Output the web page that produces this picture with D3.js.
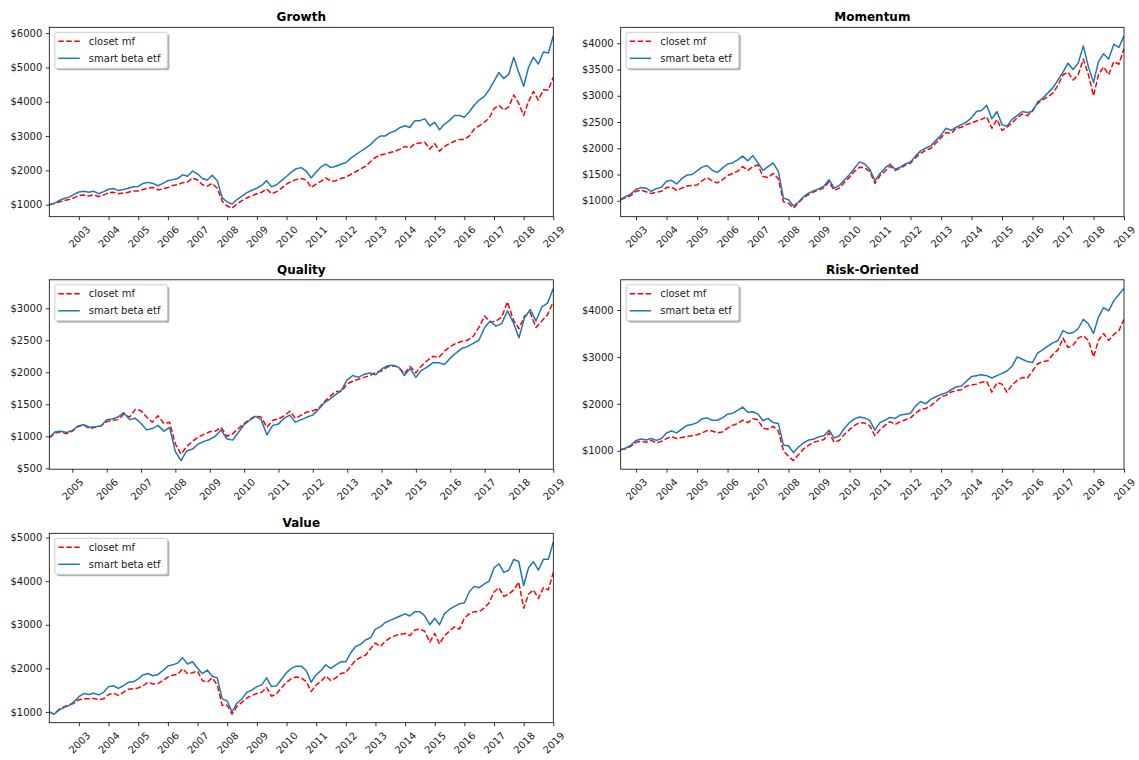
<!DOCTYPE html>
<html>
<head>
<meta charset="utf-8">
<script src="https://cdn.jsdelivr.net/npm/d3@7"></script>
<style>
  body { margin: 0; background: #fff; }
  svg { display: block; }
  text { font-family: "DejaVu Sans", sans-serif; }
</style>
</head>
<body>
<svg id="chart" width="1139" height="760"></svg>
<script>
// Growth of $1000: closet mutual funds vs smart beta ETFs, sampled every two months.

const seriesNames = ["closet mf", "smart beta etf"];

// ---- Growth (from Jan 2002) ----
const growthStart = "2002-01";
const growthMf = [
  1000, 1030, 1080, 1120, 1150, 1200,
  1270, 1280, 1250, 1290, 1240, 1280,
  1350, 1360, 1320, 1340, 1360, 1400,
  1400, 1440, 1480, 1500, 1430, 1460,
  1500, 1560, 1580, 1640, 1660, 1780,
  1720, 1580, 1540, 1620, 1480, 1100,
  960, 900, 1020, 1120, 1200, 1260,
  1320, 1360, 1460, 1320, 1380, 1480,
  1600, 1680, 1730, 1760, 1720, 1500,
  1600, 1680, 1780, 1680, 1700, 1760,
  1800, 1880, 1960, 2040, 2120, 2250,
  2380, 2450, 2480, 2520, 2560, 2620,
  2700, 2650, 2780, 2800, 2820, 2620,
  2780, 2560, 2700, 2780, 2850, 2900,
  2900, 3000, 3200, 3300, 3400, 3520,
  3800, 3900, 3760, 3850, 4200, 3950,
  3600, 4000, 4300, 4050, 4350, 4340,
  4720
];
const growthEtf = [
  1000, 1040, 1120, 1180, 1220, 1300,
  1370, 1390, 1360, 1390, 1320, 1380,
  1450, 1470, 1410, 1440, 1480, 1520,
  1530, 1620, 1650, 1620, 1550, 1620,
  1700, 1730, 1760, 1870, 1830, 1980,
  1900, 1760, 1720, 1860, 1700, 1200,
  1080, 1020, 1150, 1250, 1350, 1420,
  1480, 1560, 1700, 1520, 1580, 1700,
  1820, 1950, 2050, 2080, 1980, 1780,
  1950, 2100, 2180, 2080, 2120, 2180,
  2220, 2350, 2450, 2550, 2650, 2750,
  2900, 3000, 3000, 3100, 3150, 3250,
  3300, 3250, 3450, 3450, 3500, 3300,
  3400, 3180, 3350, 3450, 3600, 3600,
  3550, 3700, 3900, 4050, 4150, 4350,
  4600, 4850, 4680, 4800, 5300, 4850,
  4450, 5000, 5300, 5100, 5450, 5420,
  5920
];
const growthYTicks = [1000, 2000, 3000, 4000, 5000, 6000];
const growthYears = [2003, 2004, 2005, 2006, 2007, 2008, 2009, 2010, 2011, 2012, 2013, 2014, 2015, 2016, 2017, 2018, 2019];

// ---- Momentum (from Jul 2002) ----
const momentumStart = "2002-07";
const momentumMf = [
  1020, 1060, 1100,
  1180, 1200, 1170, 1140, 1160, 1180,
  1250, 1260, 1200, 1240, 1280, 1290,
  1300, 1380, 1440, 1380, 1340, 1400,
  1480, 1520, 1560, 1650, 1580, 1650,
  1680, 1460, 1440, 1520, 1420, 980,
  950, 860, 960, 1060, 1120, 1170,
  1210, 1250, 1360, 1200, 1240, 1350,
  1450, 1560, 1640, 1630, 1560, 1330,
  1480, 1560, 1660, 1580, 1620, 1680,
  1720, 1820, 1900, 1960, 2000, 2100,
  2200, 2300, 2280, 2380, 2400, 2450,
  2480, 2520, 2550, 2600, 2380, 2550,
  2340, 2400, 2480, 2580, 2650, 2620,
  2720, 2850, 2920, 2980, 3050, 3200,
  3400, 3450, 3300, 3400, 3700, 3400,
  3000, 3400, 3550, 3400, 3650, 3600,
  3900
];
const momentumEtf = [
  1030, 1080, 1130,
  1220, 1250, 1240, 1180, 1230, 1260,
  1370, 1390, 1320, 1420, 1490, 1500,
  1570, 1640, 1670, 1580, 1540, 1620,
  1700, 1720, 1780, 1850, 1760, 1860,
  1720, 1580, 1650, 1720, 1560, 1050,
  1020, 900, 980, 1080, 1150, 1190,
  1230, 1280, 1400, 1240, 1290, 1400,
  1500, 1620, 1740, 1700, 1600, 1380,
  1520, 1620, 1700, 1600, 1640, 1700,
  1740, 1850, 1950, 2000, 2050, 2150,
  2250, 2380, 2340, 2400, 2450, 2500,
  2580, 2700, 2720, 2820, 2560, 2700,
  2450, 2420, 2550, 2620, 2700, 2680,
  2700, 2880, 2950, 3050, 3150, 3300,
  3450, 3620, 3500, 3620, 3950, 3550,
  3250, 3650, 3800, 3700, 3980, 3920,
  4140
];
const momentumYTicks = [1000, 1500, 2000, 2500, 3000, 3500, 4000];
const momentumYears = [2003, 2004, 2005, 2006, 2007, 2008, 2009, 2010, 2011, 2012, 2013, 2014, 2015, 2016, 2017, 2018, 2019];

// ---- Quality (from May 2004) ----
const qualityStart = "2004-05";
const qualityMf = [
  970, 1050, 1070, 1040,
  1080, 1150, 1180, 1120, 1140, 1160,
  1230, 1250, 1260, 1340, 1300, 1420,
  1400, 1300, 1220, 1320, 1200, 1220,
  880, 720, 840, 920, 990, 1030,
  1070, 1080, 1140, 1000, 1040, 1120,
  1200, 1260, 1320, 1300, 1140, 1250,
  1270, 1320, 1390, 1280, 1330, 1380,
  1400, 1430, 1540, 1620, 1700, 1700,
  1820, 1860, 1890, 1920, 1950, 2000,
  2020, 2080, 2100, 2080, 1980, 2090,
  1990, 2100, 2180, 2250, 2230, 2330,
  2400, 2450, 2480, 2500, 2560, 2700,
  2880, 2780, 2800, 2860, 3100, 2820,
  2680, 2880, 2930, 2700, 2800, 2900,
  3100
];
const qualityEtf = [
  980, 1070, 1080, 1060,
  1090, 1160, 1180, 1140, 1150, 1160,
  1260, 1270, 1300, 1370, 1260, 1280,
  1200, 1100, 1120, 1170, 1080, 1140,
  760, 620, 770, 800, 880, 920,
  950, 1000, 1100, 960, 940, 1060,
  1180, 1250, 1310, 1260, 1020, 1170,
  1190, 1280, 1330, 1220, 1260, 1300,
  1330, 1420, 1520, 1580, 1650, 1720,
  1880, 1950, 1920, 1970, 1990, 1960,
  2050, 2100, 2110, 2080, 1950, 2060,
  1920, 2030, 2080, 2150, 2150, 2120,
  2220, 2300, 2370, 2400, 2450, 2500,
  2700, 2800, 2720, 2760, 2960, 2780,
  2540, 2850, 2980, 2800, 3020, 3080,
  3310
];
const qualityYTicks = [500, 1000, 1500, 2000, 2500, 3000];
const qualityYears = [2005, 2006, 2007, 2008, 2009, 2010, 2011, 2012, 2013, 2014, 2015, 2016, 2017, 2018, 2019];

// ---- Risk-Oriented (from Jul 2002) ----
const riskStart = "2002-07";
const riskMf = [
  1020, 1040, 1100,
  1180, 1200, 1180, 1220, 1170, 1200,
  1260, 1300, 1260, 1280, 1300, 1320,
  1340, 1380, 1430, 1420, 1380, 1400,
  1480, 1540, 1580, 1650, 1600, 1680,
  1660, 1480, 1460, 1520, 1420, 1000,
  880, 790, 920, 1040, 1120, 1180,
  1210, 1240, 1380, 1180, 1220, 1350,
  1450, 1540, 1600, 1590, 1530, 1320,
  1450, 1540, 1620, 1560, 1620, 1660,
  1700, 1800, 1880, 1900, 1960, 2050,
  2150, 2180, 2250, 2280, 2300, 2380,
  2400, 2420, 2460, 2480, 2250, 2450,
  2420, 2250, 2400, 2500, 2560, 2550,
  2700, 2850, 2900, 2920, 3050, 3150,
  3400, 3200, 3250, 3400, 3450, 3350,
  3000, 3350, 3500, 3350, 3480, 3560,
  3800
];
const riskEtf = [
  1020, 1060, 1120,
  1220, 1250, 1230, 1260, 1220, 1260,
  1380, 1420, 1380, 1460, 1540, 1560,
  1600, 1680, 1700, 1650, 1650, 1700,
  1780, 1800, 1860, 1930, 1820, 1830,
  1780, 1640, 1690, 1600, 1580, 1120,
  1100, 960, 1080, 1170, 1230, 1250,
  1300, 1320, 1440, 1270, 1320, 1480,
  1600, 1680, 1720, 1700, 1640, 1440,
  1600, 1650, 1710, 1690, 1760, 1780,
  1800, 1950, 2050, 2000, 2100, 2150,
  2200, 2230, 2300, 2360, 2380, 2480,
  2580, 2600, 2620, 2600, 2550, 2600,
  2650, 2700, 2800, 3000, 2950, 2900,
  2880, 3080, 3150, 3230, 3300, 3350,
  3560, 3500, 3520, 3600, 3800, 3700,
  3500, 3850, 4050, 3980, 4200, 4330,
  4460
];
const riskYTicks = [1000, 2000, 3000, 4000];
const riskYears = [2003, 2004, 2005, 2006, 2007, 2008, 2009, 2010, 2011, 2012, 2013, 2014, 2015, 2016, 2017, 2018, 2019];

// ---- Value (from Jan 2002) ----
const valueStart = "2002-01";
const valueMf = [
  1000, 950, 1060, 1120, 1160, 1200,
  1280, 1300, 1300, 1310, 1280, 1300,
  1400, 1430, 1380, 1450, 1520, 1530,
  1550, 1600, 1680, 1640, 1650, 1720,
  1800, 1840, 1860, 1990, 1880, 1900,
  1940, 1720, 1680, 1780, 1620, 1150,
  1150, 950, 1130, 1220, 1320, 1380,
  1420, 1450, 1560, 1360, 1420, 1550,
  1680, 1760, 1800, 1780, 1700, 1470,
  1620, 1700, 1820, 1720, 1780, 1880,
  1900, 2050, 2180, 2250, 2300, 2450,
  2580, 2500, 2620, 2700, 2750, 2780,
  2800, 2750, 2880, 2900, 2850, 2600,
  2800, 2560, 2750, 2850, 2950, 2900,
  3150, 3250, 3300, 3300, 3380, 3500,
  3750, 3850, 3650, 3700, 3800, 3980,
  3380, 3700, 3800, 3600, 3850, 3800,
  4200
];
const valueEtf = [
  1000, 950, 1040, 1100, 1150, 1230,
  1350, 1420, 1400, 1430, 1390, 1450,
  1580, 1600, 1540, 1600, 1680, 1690,
  1760, 1850, 1880, 1830, 1860, 1950,
  2050, 2080, 2120, 2240, 2100, 2150,
  2000, 1880, 1960, 1820, 1780, 1300,
  1250, 1000, 1200, 1300, 1450, 1500,
  1580, 1620, 1780, 1580, 1600, 1750,
  1900, 2000, 2050, 2050, 1950, 1680,
  1850, 1950, 2080, 2000, 2080, 2150,
  2150, 2350, 2500, 2550, 2650, 2700,
  2900, 2950, 3050, 3100, 3150, 3200,
  3250, 3200, 3300, 3300, 3200, 3000,
  3150, 3000, 3250, 3350, 3420, 3480,
  3500, 3750, 3880, 3850, 3930, 4000,
  4300, 4400, 4200, 4250, 4500, 4450,
  3900, 4300, 4450, 4250, 4500, 4500,
  4900
];
const valueYTicks = [1000, 2000, 3000, 4000, 5000];
const valueYears = [2003, 2004, 2005, 2006, 2007, 2008, 2009, 2010, 2011, 2012, 2013, 2014, 2015, 2016, 2017, 2018, 2019];

// Panel layout: plot frame [left, top, right, bottom] in pixels.
const panels = [
  { title: "Growth",        start: growthStart,   mf: growthMf,   etf: growthEtf,   yTicks: growthYTicks,   years: growthYears,   frame: [49.3, 27.3, 553.3, 216.7] },
  { title: "Momentum",      start: momentumStart, mf: momentumMf, etf: momentumEtf, yTicks: momentumYTicks, years: momentumYears, frame: [620.7, 27.3, 1124, 216.7] },
  { title: "Quality",       start: qualityStart,  mf: qualityMf,  etf: qualityEtf,  yTicks: qualityYTicks,  years: qualityYears,  frame: [49.3, 279.8, 553.3, 469.2] },
  { title: "Risk-Oriented", start: riskStart,     mf: riskMf,     etf: riskEtf,     yTicks: riskYTicks,     years: riskYears,     frame: [620.7, 279.8, 1124, 469.2] },
  { title: "Value",         start: valueStart,    mf: valueMf,    etf: valueEtf,    yTicks: valueYTicks,    years: valueYears,    frame: [49.3, 533.3, 553.3, 722.7] }
];

const MF_COLOR = "#ff0000";
const ETF_COLOR = "#1f77b4";
const MF_DASH = "5.55,2.4";
const FONT = "DejaVu Sans";
const TEXT_COLOR = "#1a1a1a";
const parseMonth = d3.timeParse("%Y-%m");

const svg = d3.select("#chart");

panels.forEach((p, idx) => {
  const [x0, y0, x1, y1] = p.frame;
  const start = parseMonth(p.start);
  const dates = p.etf.map((_, i) => d3.timeMonth.offset(start, 2 * i));

  const x = d3.scaleTime().domain(d3.extent(dates)).range([x0, x1]);
  const lo = d3.min([...p.mf, ...p.etf]);
  const hi = d3.max([...p.mf, ...p.etf]);
  const pad = (hi - lo) * 0.05;
  const y = d3.scaleLinear().domain([lo - pad, hi + pad]).range([y1, y0]);

  const g = svg.append("g");

  const clipId = "clip" + idx;
  g.append("clipPath").attr("id", clipId)
    .append("rect").attr("x", x0).attr("y", y0).attr("width", x1 - x0).attr("height", y1 - y0);

  const line = d3.line().x((d, i) => x(dates[i])).y(d => y(d));

  g.append("path").datum(p.mf)
    .attr("clip-path", `url(#${clipId})`)
    .attr("d", line)
    .attr("fill", "none")
    .attr("stroke", MF_COLOR)
    .attr("stroke-width", 1.5)
    .attr("stroke-dasharray", MF_DASH)
    .attr("stroke-linejoin", "round");

  g.append("path").datum(p.etf)
    .attr("clip-path", `url(#${clipId})`)
    .attr("d", line)
    .attr("fill", "none")
    .attr("stroke", ETF_COLOR)
    .attr("stroke-width", 1.5)
    .attr("stroke-linejoin", "round");

  // Y axis
  const yAxis = g.append("g").attr("transform", `translate(${x0},0)`)
    .call(d3.axisLeft(y).tickValues(p.yTicks).tickFormat(d => "$" + d)
      .tickSize(3.5).tickPadding(3.5).tickSizeOuter(0));
  yAxis.select(".domain").remove();
  yAxis.selectAll(".tick line").attr("stroke", "#000").attr("stroke-width", 0.8);
  yAxis.selectAll(".tick text")
    .attr("font-family", FONT).attr("font-size", 10).attr("fill", TEXT_COLOR);

  // X axis with years rotated 45 degrees
  const xAxis = g.append("g").attr("transform", `translate(0,${y1})`)
    .call(d3.axisBottom(x).tickValues(p.years.map(yr => new Date(yr, 0, 1)))
      .tickFormat(d3.timeFormat("%Y")).tickSize(3.5).tickPadding(3.5).tickSizeOuter(0));
  xAxis.select(".domain").remove();
  xAxis.selectAll(".tick line").attr("stroke", "#000").attr("stroke-width", 0.8);
  xAxis.selectAll(".tick text")
    .attr("font-family", FONT).attr("font-size", 10).attr("fill", TEXT_COLOR)
    .attr("y", null)
    .attr("dy", "0.35em")
    .attr("text-anchor", "middle")
    .each(function () {
      const len = this.getComputedTextLength();
      const side = (len + 11.64) * Math.SQRT1_2;
      d3.select(this).attr("transform", `translate(0,${7 + side / 2}) rotate(-45)`);
    });

  // Frame
  g.append("rect")
    .attr("x", x0).attr("y", y0).attr("width", x1 - x0).attr("height", y1 - y0)
    .attr("fill", "none").attr("stroke", "#000").attr("stroke-width", 0.8);

  // Title
  g.append("text")
    .attr("x", (x0 + x1) / 2).attr("y", y0 - 6)
    .attr("text-anchor", "middle")
    .attr("font-family", FONT).attr("font-size", 12).attr("font-weight", "bold")
    .attr("fill", "#000")
    .text(p.title);

  // Legend
  const lx = x0 + 5.5, ly = y0 + 5;
  const leg = g.append("g");
  const shadow = leg.append("rect");
  const box = leg.append("rect");
  const rows = [
    { name: seriesNames[0], color: MF_COLOR, dash: MF_DASH },
    { name: seriesNames[1], color: ETF_COLOR, dash: null }
  ];
  let maxLen = 0;
  rows.forEach((r, i) => {
    const cy = ly + 9 + i * 17;
    leg.append("line")
      .attr("x1", lx + 3.5).attr("x2", lx + 25)
      .attr("y1", cy).attr("y2", cy)
      .attr("stroke", r.color).attr("stroke-width", 1.5)
      .attr("stroke-dasharray", r.dash);
    const t = leg.append("text")
      .attr("x", lx + 34).attr("y", cy).attr("dy", "0.35em")
      .attr("font-family", FONT).attr("font-size", 10).attr("fill", TEXT_COLOR)
      .text(r.name);
    maxLen = Math.max(maxLen, t.node().getComputedTextLength());
  });
  const lw = 34 + maxLen + 7, lh = 36;
  shadow.attr("x", lx + 2).attr("y", ly + 2).attr("width", lw).attr("height", lh)
    .attr("rx", 2).attr("fill", "#000").attr("fill-opacity", 0.3);
  box.attr("x", lx).attr("y", ly).attr("width", lw).attr("height", lh)
    .attr("rx", 2).attr("fill", "#fff").attr("stroke", "#cccccc").attr("stroke-width", 1);
});
</script>
</body>
</html>
